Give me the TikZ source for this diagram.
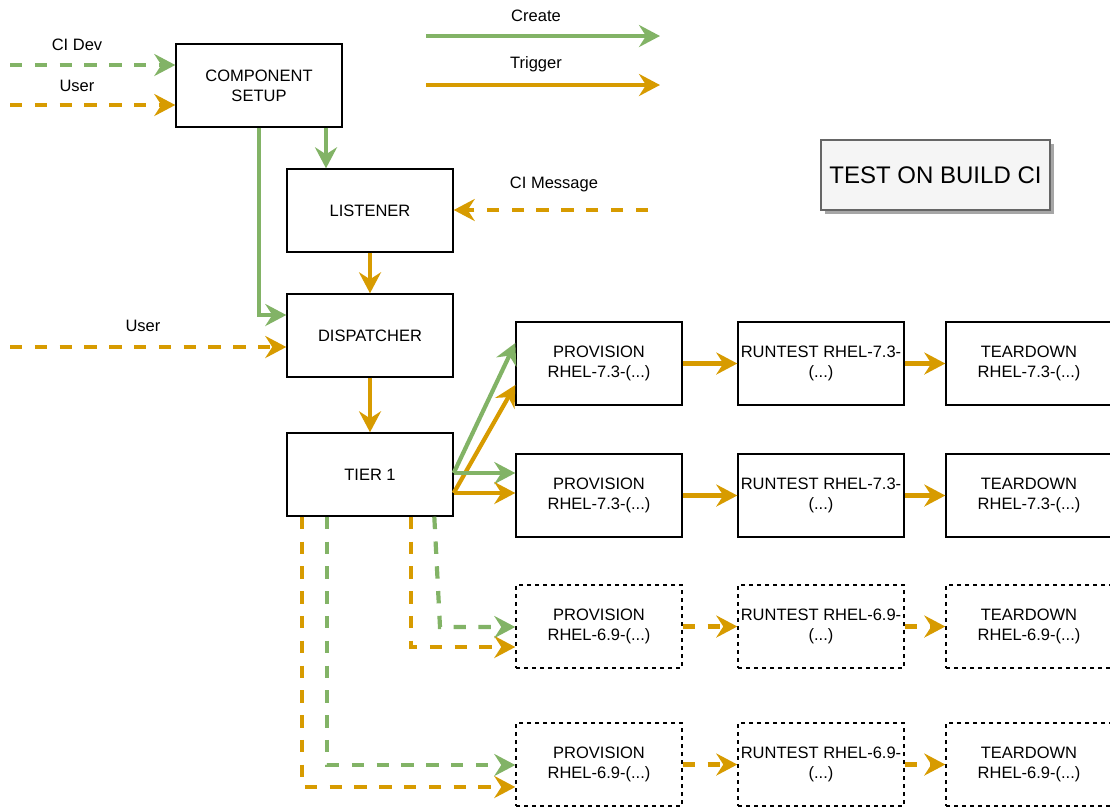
\documentclass[tikz,border=0pt]{standalone}
\usepackage{fontspec}
\setmainfont{Liberation Sans}
\usetikzlibrary{arrows.meta,shadows,calc}
\definecolor{cgreen}{HTML}{82B366}
\definecolor{corange}{HTML}{D79B00}
\definecolor{tfill}{HTML}{F5F5F5}
\definecolor{tdraw}{HTML}{666666}
\begin{document}
\begin{tikzpicture}[x=1pt,y=-1pt,
  box/.style={draw=black,line width=1.4pt,fill=white,minimum width=166pt,minimum height=83pt,
    inner sep=0pt,align=center,font=\fontsize{16.5}{20}\selectfont},
  dbox/.style={box,dash pattern=on 4pt off 4pt},
  lbl/.style={font=\fontsize{16.5}{20}\selectfont,inner sep=0pt},
  con/.style={line width=4.2pt,-{Stealth[length=21pt,width=22pt,inset=7pt]}},
  gr/.style={con,draw=cgreen},
  og/.style={con,draw=corange},
  dsh/.style={dash pattern=on 12.4pt off 12.4pt}
]
\useasboundingbox (0,0) rectangle (1110,807);

% nodes
\node[box] (cs) at (259,85.5) {COMPONENT\\SETUP};
\node[box] (ls) at (370,210.5) {LISTENER};
\node[box] (dp) at (370,335.5) {DISPATCHER};
\node[box] (t1) at (370,474.5) {TIER 1};

\node[box] (p1) at (599,363.5) {PROVISION\\RHEL-7.3-(...)};
\node[box] (r1) at (821,363.5) {RUNTEST RHEL-7.3-\\(...)};
\node[box] (d1) at (1029,363.5) {TEARDOWN\\RHEL-7.3-(...)};

\node[box] (p2) at (599,495.5) {PROVISION\\RHEL-7.3-(...)};
\node[box] (r2) at (821,495.5) {RUNTEST RHEL-7.3-\\(...)};
\node[box] (d2) at (1029,495.5) {TEARDOWN\\RHEL-7.3-(...)};

\node[dbox] (p3) at (599,626.5) {PROVISION\\RHEL-6.9-(...)};
\node[dbox] (r3) at (821,626.5) {RUNTEST RHEL-6.9-\\(...)};
\node[dbox] (d3) at (1029,626.5) {TEARDOWN\\RHEL-6.9-(...)};

\node[dbox] (p4) at (599,764.5) {PROVISION\\RHEL-6.9-(...)};
\node[dbox] (r4) at (821,764.5) {RUNTEST RHEL-6.9-\\(...)};
\node[dbox] (d4) at (1029,764.5) {TEARDOWN\\RHEL-6.9-(...)};

\node[draw=tdraw,line width=1.4pt,fill=tfill,minimum width=229pt,minimum height=70pt,inner sep=0pt,
  font=\fontsize{24}{28}\selectfont,
  drop shadow={shadow xshift=4pt,shadow yshift=-4pt,fill=black!35,opacity=1}] (title) at (935.5,175) {TEST ON BUILD CI};

% labels
\node[lbl] (lcreate) at (536,16) {Create};
\node[lbl] (ltrigger) at (536,64) {Trigger};
\node[lbl] (lcidev) at (77,45) {CI Dev};
\node[lbl] (luser1) at (77,86) {User};
\node[lbl] (luser2) at (143,326) {User};
\node[lbl] (lcim) at (554,184) {CI Message};

% legend
\coordinate (c1a) at (426,36); \coordinate (c1b) at (660,36);
\coordinate (c2a) at (426,85); \coordinate (c2b) at (660,85);
\draw[gr] (c1a) -- (c1b);
\draw[og] (c2a) -- (c2b);

% inputs
\coordinate (cidev) at (10,65);
\coordinate (user1) at (10,105);
\coordinate (user2) at (10,347);
\coordinate (cimsg) at (648,210);
\draw[gr,dsh] (cidev) -- (cidev -| cs.west);
\draw[og,dsh] (user1) -- (user1 -| cs.west);
\draw[og,dsh] (user2) -- (user2 -| dp.west);
\draw[og,dsh] (cimsg) -- (cimsg -| ls.east);

% main chain
\draw[gr] ([xshift=67pt]cs.south) -- ([xshift=67pt]cs.south |- ls.north);
\draw[gr] (cs.south) |- ([yshift=20.5pt]dp.west);
\draw[og] (ls) -- (dp);
\draw[og] (dp) -- (t1);

% tier1 to row1/row2
\draw[gr] ([yshift=1.5pt]t1.east) -- ([yshift=20.5pt]p1.west);
\draw[og] ([yshift=-18.5pt]t1.east) -- ([yshift=-21.5pt]p1.west);
\draw[gr] ([yshift=1.5pt]t1.east) -- ([yshift=1.5pt]t1.east -| p2.west);
\draw[og] ([yshift=-18.5pt]t1.east) -- ([yshift=-18.5pt]t1.east -| p2.west);

% tier1 to row3/row4 (dashed)
\draw[og,dsh] ([xshift=16pt]t1.south west) |- ([yshift=-22.5pt]p4.west);
\draw[gr,dsh] ([xshift=41pt]t1.south west) |- ([yshift=-0.5pt]p4.west);
\draw[og,dsh] ([xshift=125pt]t1.south west) |- ([yshift=-20.5pt]p3.west);
\coordinate (gbend) at (440,627);
\draw[gr,dsh] ([xshift=148pt]t1.south west) -- (gbend) -- (gbend -| p3.west);

% rows
\draw[og] (p1) -- (r1);
\draw[og] (r1) -- (d1);
\draw[og] (p2) -- (r2);
\draw[og] (r2) -- (d2);
\draw[og,dsh] (p3) -- (r3);
\draw[og,dsh] (r3) -- (d3);
\draw[og,dsh] (p4) -- (r4);
\draw[og,dsh] (r4) -- (d4);
\end{tikzpicture}
\end{document}
